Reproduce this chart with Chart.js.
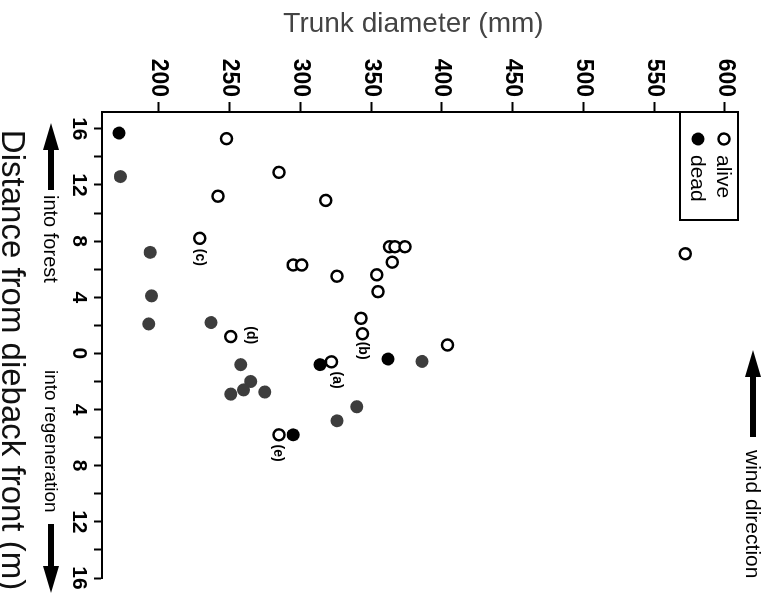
<!DOCTYPE html>
<html>
<head>
<meta charset="utf-8">
<script src="https://cdn.jsdelivr.net/npm/chart.js@4"></script>
<style>
  html, body { margin: 0; padding: 0; background: #fff; overflow: hidden; width: 775px; height: 600px; }
  /* the figure is drawn upright and turned a quarter clockwise, like the printed page */
  #wrap { position: absolute; left: 0; top: 0; width: 600px; height: 775px;
          transform-origin: 0 0; transform: translate(775px, 0) rotate(90deg); }
</style>
</head>
<body>
<div id="wrap"><canvas id="chart" width="600" height="775"></canvas></div>
<script>
// distance: negative = into forest, positive = into regeneration
const distanceTicks = [-16, -14, -12, -10, -8, -6, -4, -2, 0, 2, 4, 6, 8, 10, 12, 14, 16];
const distanceTickLabels = ['16', '', '12', '', '8', '', '4', '', '0', '', '4', '', '8', '', '12', '', '16'];
const diameterTicks = [200, 250, 300, 350, 400, 450, 500, 550, 600];

const aliveDistance = [-15.3, -12.9, -11.2, -10.9, -8.2, -6.3, -6.3, -7.6, -7.6, -7.6, -6.5, -5.6, -5.5, -4.4, -2.5, -1.4, -0.6, 0.6, -1.2, 5.8, -7.1];
const aliveDiameter = [248, 285, 242, 318, 229, 295, 301, 363, 367, 374, 365, 354, 326, 355, 343, 344, 404, 322, 251, 285, 572];

const deadDistance = [-15.7, 0.8, 0.4, 5.8];
const deadDiameter = [172, 314, 362, 295];

// dead trees printed in a lighter grey
const fadedDistance = [-12.6, -7.2, -4.1, -2.1, -2.2, 0.8, 2.0, 2.6, 2.9, 2.75, 0.57, 3.8, 4.8];
const fadedDiameter = [173, 194, 195, 193, 237, 258, 265, 260, 251, 275, 386, 340, 326];

const noteLabels = ['(a)', '(b)', '(c)', '(d)', '(e)'];
const noteDistance = [1.9, -0.2, -6.85, -1.3, 7.1];
const noteDiameter = [326, 344, 229, 265, 284];

const FONT = "'Liberation Sans', Arial, Helvetica, sans-serif";

function pts(xs, ys) {
    return xs.map((x, i) => ({x: x, y: ys[i]}));
}

function arrow(ctx, x1, x2, y) {
    // shaft from x1 to tip at x2
    const dir = Math.sign(x2 - x1);
    ctx.save();
    ctx.fillStyle = '#000';
    ctx.strokeStyle = '#000';
    ctx.lineWidth = 6;
    ctx.beginPath();
    ctx.moveTo(x1, y);
    ctx.lineTo(x2 - dir * 20, y);
    ctx.stroke();
    ctx.beginPath();
    ctx.moveTo(x2, y);
    ctx.lineTo(x2 - dir * 27, y - 8);
    ctx.lineTo(x2 - dir * 27, y + 8);
    ctx.closePath();
    ctx.fill();
    ctx.restore();
}

const extras = {
    id: 'extras',
    afterDraw(chart) {
        const ctx = chart.ctx;
        const {left, top, bottom} = chart.chartArea;
        const xs = chart.scales.x, ys = chart.scales.y;

        // legend box
        ctx.save();
        ctx.strokeStyle = '#000';
        ctx.lineWidth = 2;
        ctx.strokeRect(left, top - 13, 108, 58);
        ctx.beginPath();
        ctx.arc(left + 27, top + 1, 5.5, 0, Math.PI * 2);
        ctx.fillStyle = '#fff';
        ctx.fill();
        ctx.lineWidth = 2.5;
        ctx.stroke();
        ctx.beginPath();
        ctx.arc(left + 27, top + 27, 6.5, 0, Math.PI * 2);
        ctx.fillStyle = '#000';
        ctx.fill();
        ctx.font = '21px ' + FONT;
        ctx.textBaseline = 'middle';
        ctx.textAlign = 'left';
        ctx.fillText('alive', left + 43, top + 2);
        ctx.fillText('dead', left + 43, top + 28);

        // wind direction
        arrow(ctx, left + 325, left + 238, top - 28);
        ctx.font = '21px ' + FONT;
        ctx.fillText('wind direction', left + 338, top - 27);

        // along the distance axis
        ctx.font = '20px ' + FONT;
        arrow(ctx, left + 78, left + 11, bottom + 51);
        ctx.fillText('into forest', left + 83, bottom + 52);
        ctx.font = '19px ' + FONT;
        ctx.fillText('into regeneration', left + 258, bottom + 52);
        arrow(ctx, left + 412, left + 481, bottom + 51);

        // axis title, centred as printed
        ctx.font = '33px ' + FONT;
        ctx.textAlign = 'center';
        ctx.fillStyle = '#111';
        ctx.fillText('Distance from dieback front (m)', left + 248, chart.height - 11);

        // point notes
        ctx.fillStyle = '#000';
        ctx.font = 'bold 14px ' + FONT;
        noteLabels.forEach((t, i) => {
            ctx.fillText(t, xs.getPixelForValue(noteDistance[i]), ys.getPixelForValue(noteDiameter[i]));
        });
        ctx.restore();
    }
};

const chartCanvas = document.querySelector('#chart');

var scatterChart = new Chart(chartCanvas, {
    type: 'scatter',
    data: {
        datasets: [{
            label: 'alive',
            data: pts(aliveDistance, aliveDiameter),
            pointStyle: 'circle',
            pointRadius: 5.5,
            pointBorderWidth: 2.5,
            pointBackgroundColor: '#fff',
            pointBorderColor: '#000'
        }, {
            label: 'dead',
            data: pts(deadDistance, deadDiameter),
            pointRadius: 6.5,
            pointBorderWidth: 0,
            pointBackgroundColor: '#000',
            pointBorderColor: '#000'
        }, {
            label: 'dead',
            data: pts(fadedDistance, fadedDiameter),
            pointRadius: 6.5,
            pointBorderWidth: 0,
            pointBackgroundColor: '#3d3d3d',
            pointBorderColor: '#3d3d3d'
        }]
    },
    options: {
        responsive: false,
        animation: false,
        layout: {
            padding: {top: 50, right: 22, bottom: 0, left: 0}
        },
        plugins: {
            legend: {display: false},
            tooltip: {enabled: false}
        },
        scales: {
            x: {
                type: 'linear',
                min: -17.2,
                max: 16,
                afterBuildTicks: s => { s.ticks = distanceTicks.map(v => ({value: v})); },
                afterFit: s => { s.height = 102; },
                border: {display: true, color: '#000', width: 2},
                grid: {display: true, drawOnChartArea: false, drawTicks: true, tickLength: 8, tickWidth: 2, tickColor: '#000'},
                ticks: {
                    color: '#000',
                    font: {size: 21, family: FONT, weight: 'bold'},
                    padding: 3,
                    maxRotation: 0,
                    autoSkip: false,
                    callback: (v, i) => distanceTickLabels[i]
                }
            },
            y: {
                type: 'linear',
                min: 160,
                max: 600,
                afterBuildTicks: s => { s.ticks = diameterTicks.map(v => ({value: v})); },
                afterFit: s => { s.width = 112; },
                border: {display: true, color: '#000', width: 2},
                grid: {display: true, drawOnChartArea: false, drawTicks: true, tickLength: 10, tickWidth: 2, tickColor: '#000'},
                ticks: {
                    color: '#000',
                    font: {size: 23, family: FONT, weight: 'bold'},
                    padding: 5,
                    autoSkip: false
                },
                title: {
                    display: true,
                    text: 'Trunk diameter (mm)',
                    color: '#444',
                    font: {size: 28, family: FONT},
                    padding: {top: 7, bottom: 0}
                }
            }
        }
    },
    plugins: [extras]
});
</script>
</body>
</html>
